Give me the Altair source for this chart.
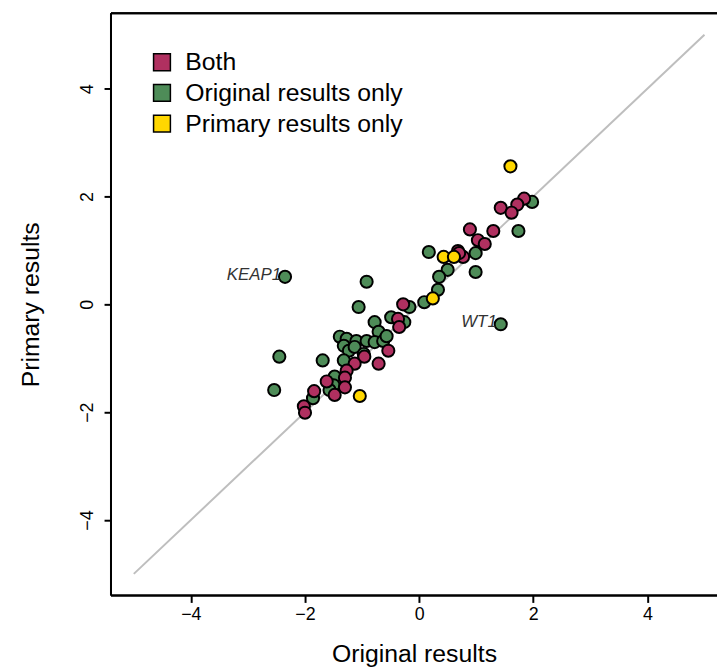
import altair as alt
import pandas as pd

# ---- data ----
both_x = [1.84, 1.72, 1.43, 1.62, 1.30, 0.89, 1.03, 1.15, 0.68, 0.77, 0.70, -0.28, -0.37,
          -0.35, -0.54, -0.71, -0.96, -1.13, -1.27, -1.30, -1.62, -1.30, -1.48, -1.84, -2.02, -2.00]
both_y = [1.96, 1.85, 1.79, 1.70, 1.36, 1.39, 1.19, 1.12, 0.99, 0.88, 0.95, 0.00, -0.27,
          -0.42, -0.86, -1.10, -0.97, -1.10, -1.23, -1.36, -1.43, -1.54, -1.68, -1.61, -1.89, -2.01]

orig_x = [1.98, 1.74, 0.99, 0.99, 0.17, 0.50, 0.35, 0.33, 0.09, -0.17, -0.26, 1.43, -2.35,
          -0.92, -1.06, -0.49, -0.78, -0.71, -1.39, -1.27, -1.10, -0.92, -0.78, -0.63, -0.57,
          -1.32, -1.23, -1.13, -0.97, -2.45, -1.69, -1.32, -1.48, -1.50, -1.57, -2.54, -1.86]
orig_y = [1.90, 1.36, 0.95, 0.60, 0.97, 0.64, 0.51, 0.27, 0.04, -0.05, -0.33, -0.37, 0.51,
          0.42, -0.05, -0.24, -0.33, -0.51, -0.60, -0.64, -0.68, -0.68, -0.70, -0.68, -0.59,
          -0.77, -0.86, -0.79, -0.92, -0.97, -1.04, -1.04, -1.34, -1.50, -1.59, -1.59, -1.74]

prim_x = [1.60, 0.43, 0.61, 0.24, -1.04]
prim_y = [2.56, 0.88, 0.88, 0.11, -1.70]

categories = ["Both", "Original results only", "Primary results only"]
cat_colors = ["#B03060", "#4E8C58", "#FFD700"]

gene_names = ["KEAP1", "WT1"]
gene_x = [-2.35, 1.43]
gene_y = [0.51, -0.37]

diag = [-5, 5]

x_ticks = [-4, -2, 0, 2, 4]
y_ticks = [-4, -2, 0, 2, 4]

# ---- tables ----
rows = []
for xs, ys, c in [(orig_x, orig_y, categories[1]), (both_x, both_y, categories[0]),
                  (prim_x, prim_y, categories[2])]:
    for a, b in zip(xs, ys):
        rows.append({"x": a, "y": b, "cat": c})
pts = pd.DataFrame(rows)
genes = pd.DataFrame({"x": gene_x, "y": gene_y, "name": gene_names})
line_df = pd.DataFrame({"x": diag, "y": diag})

W, H = 612, 588
FONT = "Liberation Sans"

xscale = alt.Scale(domain=[-5.4, 5.22], nice=False, zero=False)
yscale = alt.Scale(domain=[-5.4, 5.4], nice=False, zero=False)

xaxis = alt.Axis(values=x_ticks, title="Original results", domain=False, grid=False,
                 tickSize=7, tickWidth=2, tickColor="black", labelFontSize=18,
                 labelFont=FONT, labelColor="black", labelPadding=3, titleFont=FONT,
                 titleFontSize=25, titleFontWeight="normal", titleColor="black",
                 titlePadding=19, format="d")
yaxis = alt.Axis(values=y_ticks, title="Primary results", domain=False, grid=False,
                 tickSize=7, tickWidth=2, tickColor="black", labelFontSize=18,
                 labelFont=FONT, labelColor="black", labelAngle=270, labelAlign="center",
                 labelBaseline="bottom", labelPadding=8, titleFont=FONT, titleFontSize=25,
                 titleFontWeight="normal", titleColor="black", titlePadding=35, format="d")

line = alt.Chart(line_df).mark_line(color="#BEBEBE", strokeWidth=2).encode(
    x=alt.X("x:Q", scale=xscale, axis=xaxis),
    y=alt.Y("y:Q", scale=yscale, axis=yaxis),
)

points = alt.Chart(pts).mark_circle(size=150, stroke="black", strokeWidth=2, opacity=1).encode(
    x=alt.X("x:Q", scale=xscale),
    y=alt.Y("y:Q", scale=yscale),
    fill=alt.Fill("cat:N", scale=alt.Scale(domain=categories, range=cat_colors),
                  legend=alt.Legend(title=None, orient="none", legendX=39, legendY=37,
                                    symbolType="square", symbolSize=289,
                                    symbolStrokeColor="black", symbolStrokeWidth=1.5,
                                    symbolOpacity=1, labelFontSize=25, labelFont=FONT,
                                    labelColor="black", labelOffset=11, rowPadding=5,
                                    padding=0, labelLimit=400)),
)

labels = alt.Chart(genes).mark_text(align="right", baseline="middle", dx=-4, dy=-2,
                                    fontStyle="italic", fontSize=17, font=FONT,
                                    color="#333333").encode(
    x=alt.X("x:Q", scale=xscale),
    y=alt.Y("y:Q", scale=yscale),
    text="name:N",
)

border_left = alt.Chart(line_df).mark_rule(color="black", strokeWidth=2).encode(
    x=alt.value(0), y=alt.value(0), y2=alt.value(H))
border_top = alt.Chart(line_df).mark_rule(color="black", strokeWidth=2).encode(
    x=alt.value(0), x2=alt.value(W + 5), y=alt.value(0))
border_bottom = alt.Chart(line_df).mark_rule(color="black", strokeWidth=2).encode(
    x=alt.value(0), x2=alt.value(W + 5), y=alt.value(H))

chart = alt.layer(line, points, labels, border_left, border_top, border_bottom).properties(
    width=W, height=H,
    autosize=alt.AutoSizeParams(type="none"),
    padding={"left": 104, "top": 2, "right": 0, "bottom": 72},
).configure_view(stroke=None).configure(background="white")

chart.save("out.html", embed_options={"renderer": "svg", "actions": False})
